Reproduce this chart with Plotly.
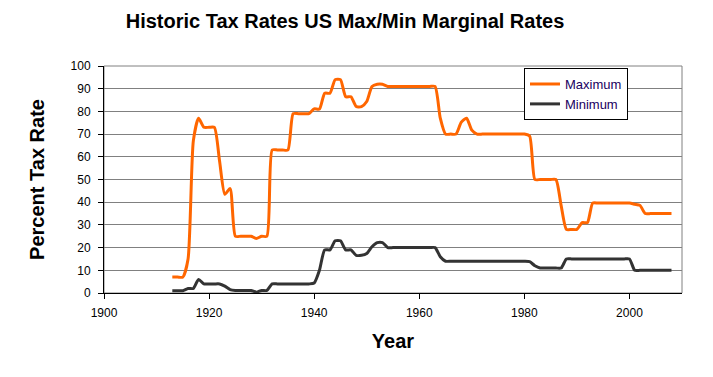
import plotly.graph_objects as go

years = list(range(1913, 2009))

max_rates = [7, 7, 7, 15, 67, 77, 73, 73, 73, 58, 43.5, 46, 25, 25, 25, 25, 24, 25, 25,
             63, 63, 63, 63, 79, 79, 79, 79, 81.1, 81, 88, 88, 94, 94, 86.45, 86.45,
             82.13, 82.13, 84.36, 91, 92, 92, 91, 91, 91, 91, 91, 91, 91, 91, 91, 91,
             77, 70, 70, 70, 75.25, 77, 71.75, 70, 70, 70, 70, 70, 70, 70, 70, 70, 70,
             69.13, 50, 50, 50, 50, 50, 38.5, 28, 28, 28, 31, 31, 39.6, 39.6, 39.6, 39.6,
             39.6, 39.6, 39.6, 39.6, 39.1, 38.6, 35, 35, 35, 35, 35, 35]

min_rates = [1, 1, 1, 2, 2, 6, 4, 4, 4, 4, 3, 1.5, 1.125, 1.125, 1.125, 1.125, 0.375, 1.125, 1.125,
             4, 4, 4, 4, 4, 4, 4, 4, 4.4, 10, 19, 19, 23, 23, 19, 19,
             16.6, 16.6, 17.4, 20.4, 22.2, 22.2, 20, 20, 20, 20, 20, 20, 20, 20, 20, 20,
             16, 14, 14, 14, 14, 14, 14, 14, 14, 14, 14, 14, 14, 14, 14, 14, 14,
             13.825, 12, 11, 11, 11, 11, 11, 15, 15, 15, 15, 15, 15, 15, 15, 15,
             15, 15, 15, 15, 10, 10, 10, 10, 10, 10, 10, 10]

x_ticks = [1900, 1920, 1940, 1960, 1980, 2000]
y_ticks = list(range(0, 101, 10))

font_family = "Liberation Sans, Arial, sans-serif"

fig = go.Figure()
fig.add_trace(go.Scatter(x=years, y=max_rates, name="Maximum", mode="lines",
                         line=dict(color="#FF6600", width=3, shape="spline", smoothing=0.6)))
fig.add_trace(go.Scatter(x=years, y=min_rates, name="Minimum", mode="lines",
                         line=dict(color="#333333", width=3, shape="spline", smoothing=0.6)))

fig.add_shape(type="rect", xref="paper", yref="paper", x0=0, y0=0, x1=1, y1=1,
              line=dict(color="#808080", width=1), layer="below")

fig.update_layout(
    width=713, height=377,
    paper_bgcolor="white", plot_bgcolor="white",
    margin=dict(l=96, r=39, t=58, b=92),
    font=dict(family=font_family, color="black", size=12),
    title=dict(text="<b>Historic Tax Rates US Max/Min Marginal Rates</b>",
               x=0.4727, xanchor="center", y=0.9655, yanchor="middle",
               xref="container", yref="container",
               font=dict(size=20, family=font_family, color="black")),
    legend=dict(x=0.7266, y=0.991, xanchor="left", yanchor="top",
                bgcolor="white", bordercolor="black", borderwidth=1,
                font=dict(size=13, color="#1a0060"),
                tracegroupgap=0, itemwidth=30),
    showlegend=True,
)

fig.update_xaxes(range=[1900, 2010], tickvals=x_ticks, ticktext=[str(v) for v in x_ticks],
                 showgrid=False, zeroline=False, showline=True, linecolor="black", linewidth=1,
                 ticks="outside", ticklen=5, tickcolor="black", ticklabelstandoff=4,
                 tickfont=dict(size=12, color="black"),
                 title=dict(text="<b>Year</b>", font=dict(size=20, color="black"), standoff=14))
fig.update_yaxes(range=[0, 100], tickvals=y_ticks,
                 showgrid=True, gridcolor="#808080", gridwidth=1, zeroline=False,
                 showline=True, linecolor="black", linewidth=1,
                 ticks="outside", ticklen=5, tickcolor="black", ticklabelstandoff=5,
                 tickfont=dict(size=12, color="black"),
                 title=dict(text="<b>Percent Tax Rate</b>", font=dict(size=20, color="black"), standoff=20))

fig.write_html("out.html")
